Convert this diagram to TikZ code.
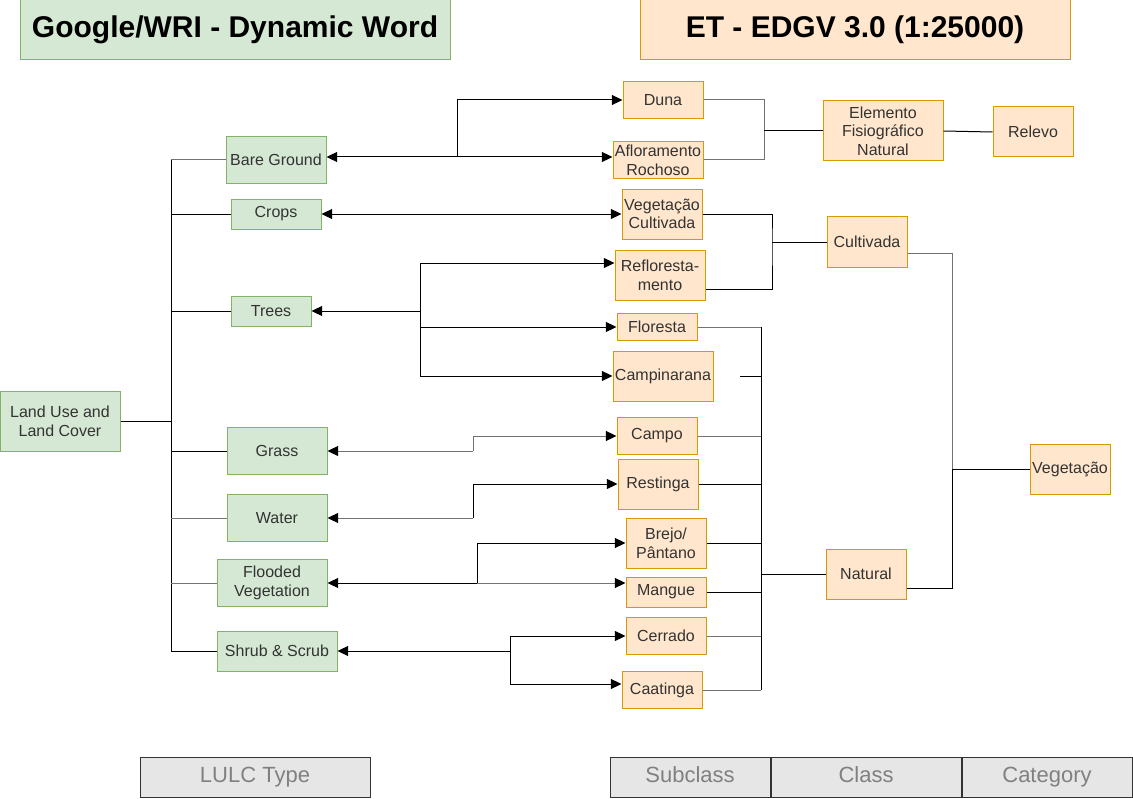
\documentclass[tikz,border=0pt]{standalone}
\usepackage{fontspec}
\setmainfont{Liberation Sans}
\usetikzlibrary{arrows.meta, positioning, calc}
\definecolor{lulcfill}{RGB}{213, 232, 212}
\definecolor{lulcline}{RGB}{130, 179, 102}
\definecolor{edgvfill}{RGB}{255, 230, 204}
\definecolor{edgvline}{RGB}{215, 155, 0}
\definecolor{legendfill}{RGB}{230, 230, 230}

\begin{document}
\begin{tikzpicture}[x=0.75pt, y=-0.75pt,
  every node/.style={font=\fontsize{12}{14}\selectfont, text=black!80, inner sep=1pt, align=center},
  lulc/.style={draw=lulcline, fill=lulcfill, line width=0.75pt},
  edgv/.style={draw=edgvline, fill=edgvfill, line width=0.75pt},
  title/.style={font=\bfseries\fontsize{22.5}{26}\selectfont, text=black, minimum width=322.5pt, minimum height=45pt},
  legendbox/.style={draw=black!80, fill=legendfill, line width=0.75pt, text=black!50, font=\fontsize{16.5}{19}\selectfont, text height=12pt, text depth=3.5pt, minimum height=30pt},
  link/.style={draw=black, line width=0.75pt},
  linkgray/.style={draw=black!55, line width=0.75pt},
  tip/.style={-{Triangle[length=8pt, width=7.5pt, color=black]}},
  tips/.style={{Triangle[length=8pt, width=7.5pt, color=black]}-{Triangle[length=8pt, width=7.5pt, color=black]}}]
  \useasboundingbox (0,0) rectangle (1133,799);

  % Titles
  \node[lulc, title] (titlelulc) at (235, 30) {Google/WRI - Dynamic Word};
  \node[edgv, title] (titleedgv) at (855, 30) {ET - EDGV 3.0 (1:25000)};

  % LULC types
  \node[lulc, minimum width=90pt, minimum height=45pt] (lulc) at (60, 421) {Land Use and\\Land Cover};
  \node[lulc, minimum width=75pt, minimum height=35pt] (bare) at (276, 160) {Bare Ground};
  \node[lulc, minimum width=67.5pt, minimum height=22.5pt] (crops) at (276, 214) {Crops};
  \node[lulc, minimum width=60pt, minimum height=22.5pt] (trees) at (271, 311) {Trees};
  \node[lulc, minimum width=75pt, minimum height=35pt] (grass) at (277, 451) {Grass};
  \node[lulc, minimum width=75pt, minimum height=35pt] (water) at (277, 518) {Water};
  \node[lulc, minimum width=82.5pt, minimum height=35pt] (flooded) at (272, 583) {Flooded\\Vegetation};
  \node[lulc, minimum width=90pt, minimum height=30pt] (shrub) at (277, 651) {Shrub \& Scrub};

  % Subclasses
  \node[edgv, minimum width=60pt, minimum height=28pt] (duna) at (663, 100) {Duna};
  \node[edgv, minimum width=67.5pt, minimum height=28pt] (aflor) at (658, 160) {Afloramento\\Rochoso};
  \node[edgv, minimum width=60pt, minimum height=37.5pt] (vegcult) at (662, 214) {Vegetação\\Cultivada};
  \node[edgv, minimum width=67.5pt, minimum height=37.5pt] (reflor) at (660, 275) {Refloresta-\\mento};
  \node[edgv, minimum width=60pt, minimum height=20pt] (floresta) at (657, 327) {Floresta};
  \node[edgv, minimum width=75pt, minimum height=37.5pt] (campina) at (663, 376) {Campinarana};
  \node[edgv, minimum width=60pt, minimum height=28pt] (campo) at (657, 436) {Campo};
  \node[edgv, minimum width=60pt, minimum height=37.5pt] (restinga) at (658, 484) {Restinga};
  \node[edgv, minimum width=60pt, minimum height=37.5pt] (brejo) at (666, 543) {Brejo/\\Pântano};
  \node[edgv, minimum width=60pt, minimum height=22.5pt] (mangue) at (666, 592) {Mangue};
  \node[edgv, minimum width=60pt, minimum height=28pt] (cerrado) at (666, 636) {Cerrado};
  \node[edgv, minimum width=60pt, minimum height=28pt] (caatinga) at (662, 690) {Caatinga};

  % Classes and categories
  \node[edgv, minimum width=90pt, minimum height=45pt] (fisio) at (883, 131) {Elemento\\Fisiográfico\\Natural};
  \node[edgv, minimum width=60pt, minimum height=38pt] (cultivada) at (867, 242) {Cultivada};
  \node[edgv, minimum width=60pt, minimum height=37.5pt] (natural) at (866, 574) {Natural};
  \node[edgv, minimum width=60pt, minimum height=37.5pt] (relevo) at (1033, 132) {Relevo};
  \node[edgv, minimum width=60pt, minimum height=37.5pt] (vegetacao) at (1070, 469) {Vegetação};

  % LULC tree
  \coordinate (jlulc) at (171, 421);
  \draw[link] (lulc.east) -- (jlulc);
  \draw[link] (bare.west -| jlulc) -- (shrub.west -| jlulc);
  \foreach \n in {crops, trees, grass, shrub}
    \draw[link] (\n.west) -- (\n.west -| jlulc);
  \foreach \n in {bare, water, flooded}
    \draw[linkgray] (\n.west) -- (\n.west -| jlulc);

  % LULC to subclasses
  \coordinate (jbare) at (457, 157);
  \draw[link, tip] (jbare) -- (bare.east |- jbare);
  \draw[link, tip] (jbare) -- (aflor.west |- jbare);
  \draw[link, tip] (jbare) |- (duna.west);
  \draw[link, tips] (crops.east) -- (vegcult.west);
  \coordinate (jtrees) at (420, 311);
  \draw[link, tip] (jtrees) -- (trees.east);
  \draw[link, tip] (jtrees) |- ($(reflor.west)+(0,-12)$);
  \draw[link, tip] (jtrees) |- (floresta.west);
  \draw[link, tip] (jtrees) |- (campina.west);
  \coordinate (jgrass) at (473, 451);
  \draw[linkgray, tip] (jgrass) -- (grass.east);
  \draw[linkgray, tip] (jgrass) |- (campo.west);
  \coordinate (jwater) at (473, 518);
  \draw[linkgray, tip] (jwater) -- (water.east);
  \draw[link, tip] (jwater) |- (restinga.west);
  \coordinate (jflood) at (477, 583);
  \draw[link, tip] (jflood) -- (flooded.east);
  \draw[link, tip] (jflood) |- (brejo.west);
  \draw[linkgray, tip] (jflood) -- (mangue.west |- jflood);
  \coordinate (jshrub) at (510, 651);
  \draw[link, tip] (jshrub) -- (shrub.east);
  \draw[link, tip] (jshrub) |- (cerrado.west);
  \draw[link, tip] (jshrub) |- ($(caatinga.west)+(0,-6)$);

  % Subclasses to classes
  \coordinate (jfisio) at (764, 131);
  \draw[linkgray] (duna.east) -| (jfisio);
  \draw[linkgray] (aflor.east) -| (jfisio);
  \draw[link] (jfisio) -- (fisio.west);
  \draw[link] (fisio.east) -- (relevo.west);
  \coordinate (jcult) at (772, 242);
  \draw[link] (vegcult.east) -| (jcult) |- ($(reflor.east)+(0,14)$);
  \draw[link] (jcult) -- (cultivada.west);
  \coordinate (jnat) at (761, 574);
  \draw[link] (floresta.east -| jnat) -- (caatinga.east -| jnat);
  \foreach \n in {floresta, campo, cerrado, caatinga}
    \draw[linkgray] (\n.east) -- (\n.east -| jnat);
  \foreach \n in {restinga, brejo, mangue}
    \draw[link] (\n.east) -- (\n.east -| jnat);
  \draw[link, shorten <=20pt] (campina.east) -- (campina.east -| jnat);
  \draw[link] (jnat) -- (natural.west);

  % Classes to category
  \coordinate (jveg) at (952, 469);
  \draw[linkgray] ($(cultivada.east)+(0,11)$) -| (jveg);
  \draw[link] ($(natural.east)+(0,14)$) -| (jveg);
  \draw[link] (jveg) -- (vegetacao.west);

  % Legend
  \node[legendbox, minimum width=172.5pt] (typelegend) at (255, 777) {LULC Type};
  \node[legendbox, minimum width=120pt] (subclasslegend) at (690, 777) {Subclass};
  \node[legendbox, minimum width=142.5pt, right=0pt of subclasslegend] (classlegend) {Class};
  \node[legendbox, minimum width=127.5pt, right=0pt of classlegend] (categorylegend) {Category};
\end{tikzpicture}
\end{document}
